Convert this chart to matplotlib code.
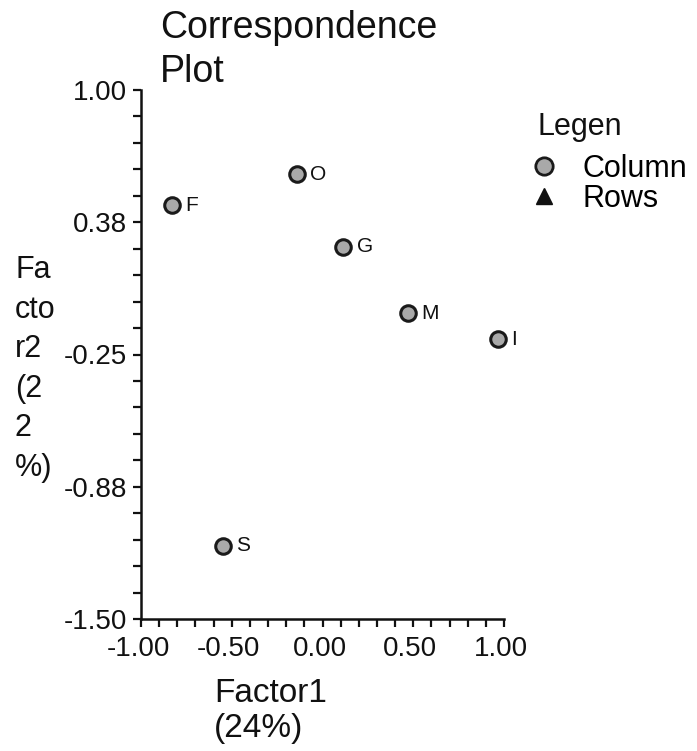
import matplotlib
matplotlib.use("Agg")
import matplotlib.pyplot as plt
from matplotlib.ticker import MultipleLocator, FixedLocator
from matplotlib.transforms import ScaledTranslation
from matplotlib.lines import Line2D

plt.rcParams['font.family'] = ['Liberation Sans', 'DejaVu Sans']

# Column coordinates on the first two factors
labels = ["F", "O", "G", "M", "I", "S"]
factor1 = [-0.831, -0.142, 0.115, 0.473, 0.969, -0.547]
factor2 = [0.456, 0.603, 0.259, -0.055, -0.178, -1.155]

x_ticks = [-1.0, -0.5, 0.0, 0.5, 1.0]
x_tick_labels = ["-1.00", "-0.50", "0.00", "0.50", "1.00"]
y_ticks = [1.0, 0.375, -0.25, -0.875, -1.5]
y_tick_labels = ["1.00", "0.38", "-0.25", "-0.88", "-1.50"]

INK = "#111111"
FILL = "#a9a9a9"

W, H = 697, 751
fig = plt.figure(figsize=(W / 100, H / 100), dpi=100)
ax = fig.add_axes([141 / W, 1 - 619 / H, (504 - 141) / W, (619 - 90) / H])

ax.set_xlim(-1.0, 1.0)
ax.set_ylim(-1.5, 1.0)

ax.scatter(factor1, factor2, s=125, marker="o", facecolor=FILL,
           edgecolor="#1a1a1a", linewidths=2.2, zorder=3, clip_on=False)
for lab, x, y in zip(labels, factor1, factor2):
    ax.annotate(lab, (x, y), xytext=(9.5, 0), textcoords="offset points",
                ha="left", va="center", fontsize=15, color=INK)

for side in ("top", "right"):
    ax.spines[side].set_visible(False)
for side in ("left", "bottom"):
    ax.spines[side].set_linewidth(1.8)
    ax.spines[side].set_color(INK)

ax.xaxis.set_major_locator(FixedLocator(x_ticks))
ax.set_xticklabels(x_tick_labels)
ax.xaxis.set_minor_locator(MultipleLocator(0.1))
ax.yaxis.set_major_locator(FixedLocator(y_ticks))
ax.set_yticklabels(y_tick_labels)
ax.yaxis.set_minor_locator(MultipleLocator(0.125))

ax.tick_params(which="both", direction="out", length=6, width=1.6,
               color=INK, labelsize=20, labelcolor=INK)
ax.tick_params(axis="x", pad=6.5)
ax.tick_params(axis="y", pad=4)

shift = ScaledTranslation(-3 / 100, 0, fig.dpi_scale_trans)
for t in ax.get_xticklabels():
    t.set_transform(t.get_transform() + shift)

fig.text(160 / W, 1 - 50 / H, "Correspondence\nPlot", ha="left", va="center",
         fontsize=27, color=INK, linespacing=1.28)

fig.text(214 / W, 1 - 711 / H, "Factor1\n(24%)", ha="left", va="center",
         fontsize=24, color=INK, linespacing=1.2)

fig.text(15 / W, 1 - 369 / H, "Fa\ncto\nr2\n(2\n2\n%)", ha="left",
         va="center", fontsize=22, color=INK, linespacing=1.42)

# legend heading
fig.text(538 / W, 1 - 135 / H, "Legen", ha="left", va="baseline",
         fontsize=22, color=INK)

handles = [
    Line2D([], [], linestyle="none", marker="o", markersize=12.5,
           markerfacecolor=FILL, markeredgecolor="#1a1a1a",
           markeredgewidth=2.0),
    Line2D([], [], linestyle="none", marker="^", markersize=11,
           markerfacecolor=INK, markeredgecolor=INK),
]
leg = fig.legend(handles, ["Column", "Rows"],
                 loc="upper left", bbox_to_anchor=(529 / W, 1 - 154 / H),
                 frameon=False, fontsize=22,
                 handlelength=1.0, handletextpad=0.74, labelspacing=0.0,
                 borderaxespad=0, borderpad=0)

fig.savefig("out.png", dpi=100, facecolor="white")
